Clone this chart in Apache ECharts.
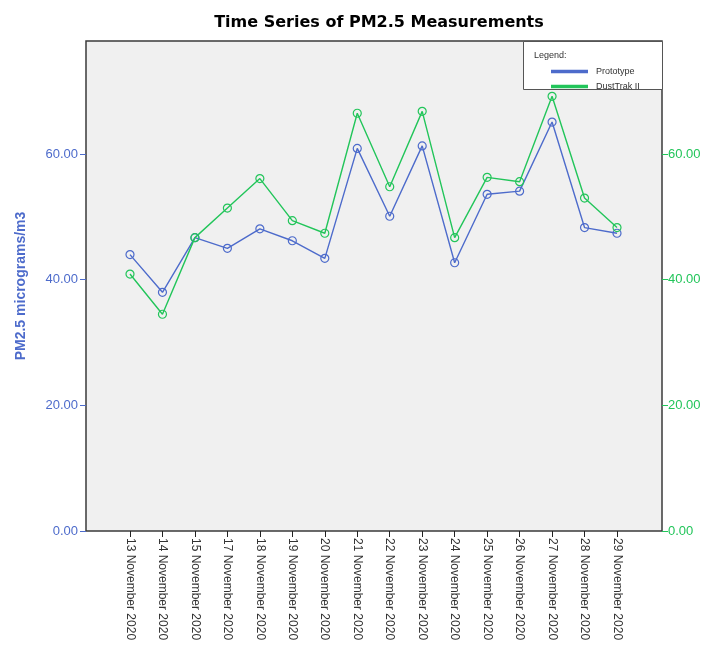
<!DOCTYPE html>
<html>
<head>
<meta charset="utf-8">
<script src="https://cdn.jsdelivr.net/npm/echarts@6/dist/echarts.min.js"></script>
<style>html,body{margin:0;padding:0;background:#fff}#c{width:714px;height:656px}</style>
</head>
<body>
<div id="c"></div>
<script>
var categories = ['13 November 2020','14 November 2020','15 November 2020','17 November 2020','18 November 2020','19 November 2020','20 November 2020','21 November 2020','22 November 2020','23 November 2020','24 November 2020','25 November 2020','26 November 2020','27 November 2020','28 November 2020','29 November 2020'];
var prototype = [44.0, 38.0, 46.7, 45.0, 48.1, 46.2, 43.4, 60.9, 50.1, 61.3, 42.7, 53.6, 54.1, 65.1, 48.3, 47.4];
var dustTrak = [40.9, 34.5, 46.7, 51.4, 56.1, 49.4, 47.4, 66.5, 54.8, 66.8, 46.7, 56.3, 55.6, 69.2, 53.0, 48.3];
var yTicks = [0, 20, 40, 60];

var BLUE = '#4d6bcb', GREEN = '#22c55a';
var FONT = 'Liberation Sans, Arial, sans-serif';
var idx = categories.map(function(_, i){ return i; });
function pairs(arr){ return arr.map(function(v, i){ return [i, v]; }); }

var chart = echarts.init(document.getElementById('c'));
chart.setOption({
  animation: false,
  backgroundColor: '#ffffff',
  title: {
    text: 'Time Series of PM2.5 Measurements',
    left: 374, top: 10, textAlign: 'center',
    textStyle: { fontFamily: 'DejaVu Sans, sans-serif', fontWeight: 'bold', fontSize: 16, color: '#000' }
  },
  grid: {
    left: 86, right: 52, top: 41, bottom: 125,
    show: true, backgroundColor: '#f0f0f0', borderColor: '#3a3a3a', borderWidth: 1.5
  },
  legend: {
    orient: 'vertical', left: 546, top: 62, itemWidth: 35, itemHeight: 1.5, itemGap: 6,
    icon: 'rect',
    textStyle: { fontFamily: FONT, fontSize: 9, color: '#333', padding: [0, 0, 0, 4] },
    data: ['Prototype', 'DustTrak II']
  },
  graphic: [
    { type: 'rect', left: 523, top: 41, shape: { width: 139, height: 48 },
      style: { fill: '#ffffff', stroke: '#555', lineWidth: 1 }, z: 1 },
    { type: 'text', left: 534, top: 51, style: { text: 'Legend:', font: '9px ' + FONT, fill: '#333' }, z: 2 }
  ],
  xAxis: {
    type: 'value', min: -1.355, max: 16.386,
    splitLine: { show: false },
    axisLine: { show: false, onZero: false },
    axisTick: { show: true, length: 6, lineStyle: { color: '#222' }, customValues: idx },
    axisLabel: {
      customValues: idx, rotate: -90, margin: 7,
      fontFamily: FONT, fontSize: 12, color: '#333',
      formatter: function(v){ return categories[Math.round(v)]; }
    }
  },
  yAxis: [
    {
      type: 'value', min: 0, max: 78, interval: 20, position: 'left',
      name: 'PM2.5 micrograms/m3', nameLocation: 'middle', nameGap: 58, nameRotate: 90,
      nameTextStyle: { fontFamily: FONT, fontWeight: 'bold', fontSize: 14, color: BLUE },
      splitLine: { show: false },
      axisLine: { show: false, onZero: false },
      axisTick: { show: true, length: 6, lineStyle: { color: BLUE }, customValues: yTicks },
      axisLabel: { customValues: yTicks, fontFamily: FONT, fontSize: 13, color: BLUE, margin: 8,
        formatter: function(v){ return v.toFixed(2); } }
    },
    {
      type: 'value', min: 0, max: 78, interval: 20, position: 'right',
      splitLine: { show: false },
      axisLine: { show: false, onZero: false },
      axisTick: { show: true, length: 6, lineStyle: { color: GREEN }, customValues: yTicks },
      axisLabel: { customValues: yTicks, fontFamily: FONT, fontSize: 13, color: GREEN, margin: 6,
        formatter: function(v){ return v.toFixed(2); } }
    }
  ],
  series: [
    { name: 'Prototype', type: 'line', yAxisIndex: 0, data: pairs(prototype),
      color: BLUE, symbol: 'circle', symbolSize: 8,
      lineStyle: { width: 1.4, color: BLUE },
      itemStyle: { color: 'rgba(0,0,0,0)', borderColor: BLUE, borderWidth: 1.2 }, z: 3 },
    { name: 'DustTrak II', type: 'line', yAxisIndex: 1, data: pairs(dustTrak),
      color: GREEN, symbol: 'circle', symbolSize: 8,
      lineStyle: { width: 1.4, color: GREEN },
      itemStyle: { color: 'rgba(0,0,0,0)', borderColor: GREEN, borderWidth: 1.2 }, z: 3 }
  ]
});
</script>
</body>
</html>
